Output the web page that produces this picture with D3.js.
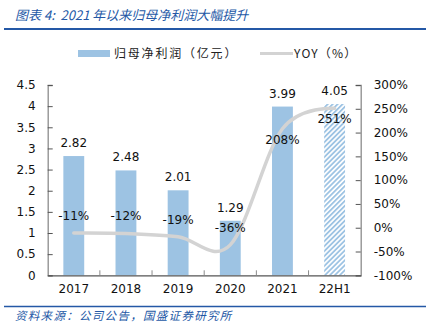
<!DOCTYPE html>
<html><head><meta charset="utf-8">
<script src="https://cdn.jsdelivr.net/npm/d3@7"></script>
<style>
body{margin:0;background:#fff;}
svg{display:block;}
text{white-space:pre;}
</style></head>
<body><svg id="chart" width="430" height="335"></svg>
<script>
// Net profit attributable to parent (100m CNY) and YoY growth
const categories = ["2017", "2018", "2019", "2020", "2021", "22H1"];
const profit = [2.82, 2.48, 2.01, 1.29, 3.99, 4.05];
const yoy = [-11, -12, -19, -36, 208, 251];
const yoyLabelSide = ["above", "above", "above", "above", "below", "below"];
const leftTicks = [0, 0.5, 1, 1.5, 2, 2.5, 3, 3.5, 4, 4.5];
const rightTicks = [-100, -50, 0, 50, 100, 150, 200, 250, 300];

const svg = d3.select("#chart");
const font = "'DejaVu Sans', Verdana, sans-serif";
const cjk = "'Noto Sans CJK SC', sans-serif";
const blue = "#2458a6";
const barColor = "#9dc3e3";
const lineColor = "#d3d3d3";
const axisColor = "#8c8c8c";

const plotL = 47.7, plotR = 360.7, plotT = 85, plotB = 275.3;

const x = d3.scaleBand().domain(categories).range([plotL, plotR]).padding(0);
const yL = d3.scaleLinear().domain([0, 4.5]).range([plotB, plotT]);
const yR = d3.scaleLinear().domain([-100, 300]).range([plotB, plotT]);
const barW = x.bandwidth() * 0.4;

// hatch pattern for the half-year bar
const defs = svg.append("defs");
const pat = defs.append("pattern").attr("id", "hatch").attr("patternUnits", "userSpaceOnUse")
  .attr("width", 3.5).attr("height", 3.5).attr("patternTransform", "rotate(45)");
pat.append("rect").attr("width", 3.5).attr("height", 3.5).attr("fill", "#fff");
pat.append("rect").attr("width", 1.8).attr("height", 3.5).attr("fill", barColor);

// title
svg.append("text").attr("x", 15).attr("y", 20).attr("font-family", cjk).attr("font-size", 13)
  .attr("font-style", "italic").attr("fill", blue).text("图表 4:  2021 年以来归母净利润大幅提升");
svg.append("line").attr("x1", 4).attr("x2", 426).attr("y1", 29).attr("y2", 29)
  .attr("stroke", blue).attr("stroke-width", 2);

// legend
svg.append("rect").attr("x", 78).attr("y", 50).attr("width", 32).attr("height", 7).attr("fill", barColor);
svg.append("text").attr("x", 114).attr("y", 58).attr("font-family", cjk).attr("font-size", 12)
  .attr("letter-spacing", 1.8).attr("fill", "#222").text("归母净利润（亿元）");
svg.append("line").attr("x1", 260).attr("x2", 293).attr("y1", 53.5).attr("y2", 53.5)
  .attr("stroke", lineColor).attr("stroke-width", 3);
svg.append("text").attr("x", 294).attr("y", 58).attr("font-family", cjk).attr("font-size", 12)
  .attr("letter-spacing", 1.2).attr("fill", "#222").text("YOY（%）");

// bars
svg.append("g").selectAll("rect").data(profit).join("rect")
  .attr("x", (d, i) => x(categories[i]) + (x.bandwidth() - barW) / 2)
  .attr("width", barW)
  .attr("y", d => yL(d))
  .attr("height", d => yL(0) - yL(d))
  .attr("fill", (d, i) => categories[i] === "22H1" ? "url(#hatch)" : barColor);

// axes
const gL = svg.append("g").attr("transform", `translate(${plotL},0)`)
  .call(d3.axisRight(yL).tickValues(leftTicks).tickSize(5).tickFormat(d3.format("~g")));
gL.selectAll("text").attr("x", -12).attr("text-anchor", "end");
const gR = svg.append("g").attr("transform", `translate(${plotR},0)`)
  .call(d3.axisLeft(yR).tickValues(rightTicks).tickSize(5).tickFormat(d => d + "%"));
gR.selectAll("text").attr("x", 13).attr("text-anchor", "start");
const gX = svg.append("g").attr("transform", `translate(0,${plotB})`)
  .call(d3.axisBottom(x).tickSize(0));
gX.selectAll("text").attr("dy", "1.25em");
// category divider ticks on the base line
gX.selectAll(".div").data(categories.slice(1)).join("line").attr("class", "div")
  .attr("x1", d => x(d)).attr("x2", d => x(d)).attr("y1", 0).attr("y2", -5).attr("stroke", axisColor);
[gL, gR, gX].forEach(g => {
  g.selectAll(".domain").attr("stroke", axisColor).attr("stroke-width", 1.3);
  g.selectAll(".tick line").attr("stroke", "#555");
  g.selectAll("text").attr("font-family", font).attr("font-size", 12).attr("fill", "#111");
});
gX.select(".domain").attr("stroke", "#555");

// yoy line
const line = d3.line().x((d, i) => x(categories[i]) + x.bandwidth() / 2).y(d => yR(d))
  .curve(d3.curveCardinal.tension(0));
svg.append("path").datum(yoy).attr("d", line).attr("fill", "none")
  .attr("stroke", lineColor).attr("stroke-width", 3.5).attr("stroke-linecap", "round");

// value labels
svg.append("g").selectAll("text").data(profit).join("text")
  .attr("x", (d, i) => x(categories[i]) + x.bandwidth() / 2)
  .attr("y", d => yL(d) - 9)
  .attr("text-anchor", "middle").attr("font-family", font).attr("font-size", 12).attr("fill", "#111")
  .text(d => d.toFixed(2));
svg.append("g").selectAll("text").data(yoy).join("text")
  .attr("x", (d, i) => x(categories[i]) + x.bandwidth() / 2)
  .attr("y", (d, i) => yR(d) + (yoyLabelSide[i] === "above" ? -13 : 15))
  .attr("text-anchor", "middle").attr("font-family", font).attr("font-size", 12).attr("fill", "#111")
  .text(d => d + "%");

// source
svg.append("line").attr("x1", 4).attr("x2", 426).attr("y1", 306.5).attr("y2", 306.5)
  .attr("stroke", blue).attr("stroke-width", 1.5);
svg.append("text").attr("x", 15).attr("y", 320).attr("font-family", cjk).attr("font-size", 11.5)
  .attr("letter-spacing", 1.3)
  .attr("font-style", "italic").attr("fill", blue).text("资料来源：公司公告，国盛证券研究所");
</script></body></html>
